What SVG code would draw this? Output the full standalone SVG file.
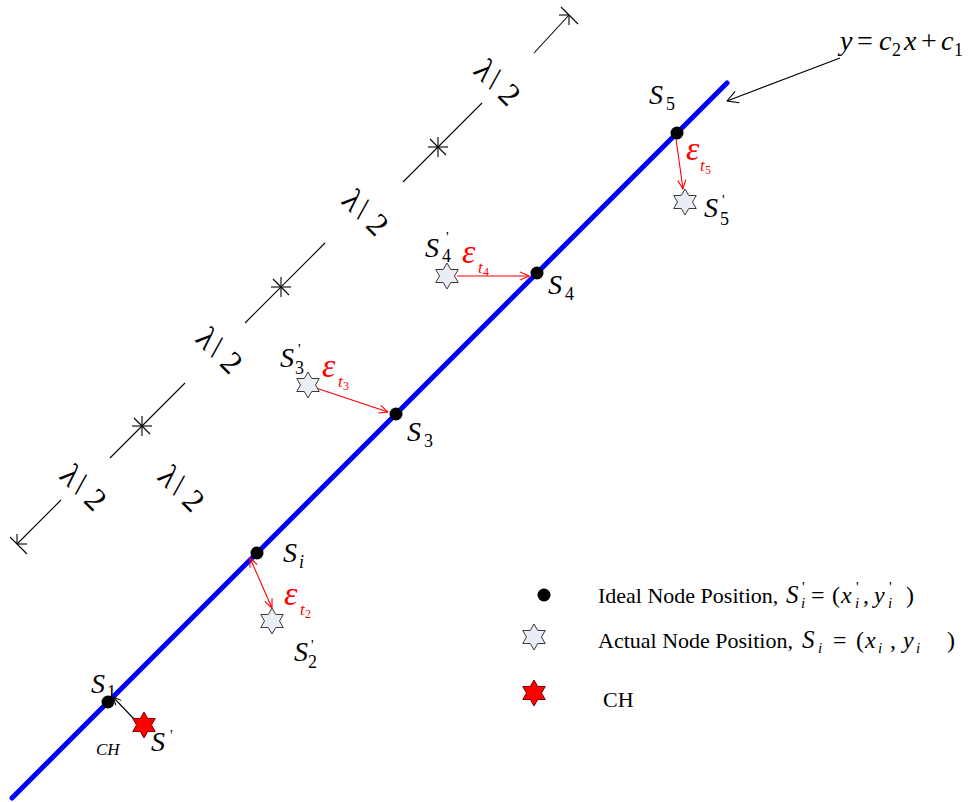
<svg xmlns="http://www.w3.org/2000/svg" xmlns:xlink="http://www.w3.org/1999/xlink" width="968" height="802" viewBox="0 0 968 802">
<style>
  text { font-family: "Liberation Serif", "Times New Roman", serif; fill: #000; }
  .it { font-style: italic; }
  .s { font-size: 28px; font-style: italic; }
  .sub { font-size: 18px; }
  .pr { font-size: 15px; }
  .eps { fill: #FF0000; font-style: italic; font-size: 34px; }
  .ept { fill: #FF0000; font-style: italic; font-size: 17px; }
  .epn { fill: #FF0000; font-size: 12px; }
  .lam { font-size: 32px; }
  .leg { font-size: 22px; }
  .dim { stroke: #000; stroke-width: 1.1; fill: none; }
  .red { stroke: #FF0000; stroke-width: 1.1; fill: none; }
  .blk { stroke: #000; stroke-width: 1.1; fill: none; }
  .dot { fill: #000; }
  .star { fill: #E8EDF6; stroke: #3A3A3A; stroke-width: 1; }
  .rstar { fill: #FF0000; stroke: #7A0000; stroke-width: 1; }
</style>
<defs>
  <path id="hex" d="M0,-13 L3.75,-6.5 L11.26,-6.5 L7.5,0 L11.26,6.5 L3.75,6.5 L0,13 L-3.75,6.5 L-11.26,6.5 L-7.5,0 L-11.26,-6.5 L-3.75,-6.5 Z"/>
  <marker id="ra" viewBox="0 0 10 10" refX="9.5" refY="5" markerWidth="10" markerHeight="10" markerUnits="userSpaceOnUse" orient="auto-start-reverse">
    <path d="M0.5,1 L9.5,5 L0.5,9" fill="none" stroke="#FF0000" stroke-width="1.1"/>
  </marker>
  <marker id="ka" viewBox="0 0 10 10" refX="9.5" refY="5" markerWidth="9" markerHeight="9" markerUnits="userSpaceOnUse" orient="auto">
    <path d="M0.5,1 L9.5,5 L0.5,9" fill="none" stroke="#000" stroke-width="1.1"/>
  </marker>
  <marker id="kb" viewBox="0 0 12 14" refX="11.5" refY="7" markerWidth="12" markerHeight="14" markerUnits="userSpaceOnUse" orient="auto">
    <path d="M0.5,1 L11.5,7 L0.5,13" fill="none" stroke="#000" stroke-width="1.1"/>
  </marker>
</defs>
<rect width="968" height="802" fill="#fff"/>

<!-- dimension line -->
<g id="dimension">
  <line class="dim" x1="17" y1="544" x2="61" y2="500"/>
  <line class="dim" x1="17" y1="544" x2="27" y2="544"/>
  <line class="dim" x1="17" y1="544" x2="17" y2="534"/>
  <line class="dim" x1="10" y1="537" x2="27" y2="554"/>
  <line class="dim" x1="110" y1="458" x2="185" y2="383"/>
  <line class="dim" x1="245" y1="323" x2="325" y2="243"/>
  <line class="dim" x1="403" y1="182" x2="482" y2="103"/>
  <line class="dim" x1="534" y1="53" x2="569" y2="15"/>
  <line class="dim" x1="569" y1="15" x2="559" y2="15"/>
  <line class="dim" x1="569" y1="15" x2="569" y2="25"/>
  <line class="dim" x1="561" y1="7" x2="578" y2="24"/>
  <g id="tick1" transform="translate(142,426)">
    <line class="dim" x1="-10" y1="0" x2="10" y2="0"/><line class="dim" x1="0" y1="-10" x2="0" y2="10"/><line class="dim" x1="-8" y1="-8" x2="8" y2="8"/>
  </g>
  <g id="tick2" transform="translate(281,287)">
    <line class="dim" x1="-10" y1="0" x2="10" y2="0"/><line class="dim" x1="0" y1="-10" x2="0" y2="10"/><line class="dim" x1="-8" y1="-8" x2="8" y2="8"/>
  </g>
  <g id="tick3" transform="translate(438,147)">
    <line class="dim" x1="-10" y1="0" x2="10" y2="0"/><line class="dim" x1="0" y1="-10" x2="0" y2="10"/><line class="dim" x1="-8" y1="-8" x2="8" y2="8"/>
  </g>
  <text class="lam" text-anchor="middle" transform="translate(83,488) rotate(45)" y="10">λ<tspan dx="8" rotate="-35">/</tspan><tspan dx="2">2</tspan></text>
  <text class="lam" text-anchor="middle" transform="translate(181,489) rotate(45)" y="10">λ<tspan dx="8" rotate="-35">/</tspan><tspan dx="2">2</tspan></text>
  <text class="lam" text-anchor="middle" transform="translate(219,351) rotate(45)" y="10">λ<tspan dx="8" rotate="-35">/</tspan><tspan dx="2">2</tspan></text>
  <text class="lam" text-anchor="middle" transform="translate(365,213) rotate(45)" y="10">λ<tspan dx="8" rotate="-35">/</tspan><tspan dx="2">2</tspan></text>
  <text class="lam" text-anchor="middle" transform="translate(497,83) rotate(45)" y="10">λ<tspan dx="8" rotate="-35">/</tspan><tspan dx="2">2</tspan></text>
</g>

<!-- main blue line -->
<g id="line">
  <line x1="12" y1="798" x2="727" y2="83" stroke="#0000FF" stroke-width="5" stroke-linecap="round"/>
  <text class="it" x="840" y="50" font-size="28">y</text>
  <text x="857" y="50" font-size="28">=</text>
  <text class="it" x="879" y="50" font-size="28">c</text>
  <text x="892" y="56" font-size="18">2</text>
  <text class="it" x="904" y="50" font-size="28">x</text>
  <text x="921" y="50" font-size="28">+</text>
  <text class="it" x="941" y="50" font-size="28">c</text>
  <text x="954" y="56" font-size="18">1</text>
</g>

<!-- connectors -->
<g id="connectors">
  <line class="blk" x1="840" y1="58" x2="727" y2="101" marker-end="url(#kb)"/>
  <line class="red" x1="676" y1="139" x2="683" y2="189" marker-end="url(#ra)"/>
  <line class="red" x1="457" y1="276" x2="529" y2="276" marker-end="url(#ra)"/>
  <line class="red" x1="316" y1="388" x2="388" y2="412" marker-end="url(#ra)"/>
  <line class="red" x1="250" y1="558" x2="272" y2="608" marker-start="url(#ra)" marker-end="url(#ra)"/>
  <line class="blk" x1="134" y1="719" x2="113" y2="697" marker-end="url(#ka)"/>
</g>

<!-- nodes -->
<g id="S5">
  <circle class="dot" cx="677" cy="133" r="6.5"/>
  <text class="s" x="649" y="104" font-size="25">S</text>
  <text class="sub" x="666" y="110">5</text>
</g>
<g id="S5p">
  <use href="#hex" x="685" y="202" class="star"/>
  <text class="s" x="704" y="217">S</text>
  <text class="pr" x="722" y="205">'</text>
  <text class="sub" x="720" y="225">5</text>
  <text class="eps" x="686" y="160">ε</text>
  <text class="ept" x="700" y="171">t</text>
  <text class="epn" x="705" y="174">5</text>
</g>
<g id="S4">
  <circle class="dot" cx="537" cy="273" r="6.5"/>
  <text class="s" x="548" y="294">S</text>
  <text class="sub" x="565" y="300">4</text>
</g>
<g id="S4p">
  <use href="#hex" x="447" y="276" class="star"/>
  <text class="s" x="425" y="257">S</text>
  <text class="pr" x="446" y="242">'</text>
  <text class="sub" x="442" y="262">4</text>
  <text class="eps" x="462" y="263">ε</text>
  <text class="ept" x="478" y="273">t</text>
  <text class="epn" x="483" y="276">4</text>
</g>
<g id="S3">
  <circle class="dot" cx="396" cy="414" r="6.5"/>
  <text class="s" x="407" y="441">S</text>
  <text class="sub" x="424" y="447">3</text>
</g>
<g id="S3p">
  <use href="#hex" x="308" y="385" class="star"/>
  <text class="s" x="280" y="367">S</text>
  <text class="pr" x="298" y="354">'</text>
  <text class="sub" x="295" y="374">3</text>
  <text class="eps" x="322" y="377">ε</text>
  <text class="ept" x="338" y="387">t</text>
  <text class="epn" x="343" y="390">3</text>
</g>
<g id="Si">
  <circle class="dot" cx="257" cy="553" r="6.5"/>
  <text class="s" x="283" y="562">S</text>
  <text class="sub it" x="299" y="568">i</text>
</g>
<g id="S2p">
  <use href="#hex" x="272" y="621" class="star"/>
  <text class="s" x="294" y="661" font-size="25">S</text>
  <text class="pr" x="311" y="650">'</text>
  <text class="sub" x="308" y="668">2</text>
  <text class="eps" x="284" y="605">ε</text>
  <text class="ept" x="300" y="615">t</text>
  <text class="epn" x="305" y="618">2</text>
</g>
<g id="S1">
  <circle class="dot" cx="108" cy="702" r="6.5"/>
  <text class="s" x="91" y="693">S</text>
  <text class="sub" x="107" y="698">1</text>
</g>
<g id="CH">
  <use href="#hex" x="144" y="725" class="rstar"/>
  <text class="s" x="151" y="751" font-size="30">S</text>
  <text class="pr" x="170" y="740">'</text>
  <text class="it" x="96" y="755" font-size="17">CH</text>
</g>

<!-- legend -->
<g id="legend">
  <circle class="dot" cx="544" cy="595" r="6.5"/>
  <text class="leg" x="598" y="603">Ideal Node Position,</text>
  <text class="it" x="786" y="603" font-size="25">S</text>
  <text class="pr" x="802" y="592" font-size="13">'</text>
  <text class="it" x="801" y="608" font-size="15">i</text>
  <text x="811" y="603" font-size="24">=</text>
  <text x="832" y="603" font-size="24">(</text>
  <text class="it" x="841" y="603" font-size="24">x</text>
  <text class="pr" x="856" y="592" font-size="13">'</text>
  <text class="it" x="855" y="608" font-size="15">i</text>
  <text x="863" y="603" font-size="24">,</text>
  <text class="it" x="874" y="603" font-size="24">y</text>
  <text class="pr" x="889" y="592" font-size="13">'</text>
  <text class="it" x="888" y="608" font-size="15">i</text>
  <text x="906" y="603" font-size="24">)</text>

  <use href="#hex" x="534" y="637" class="star"/>
  <text class="leg" x="598" y="648">Actual Node Position,</text>
  <text class="it" x="802" y="648" font-size="25">S</text>
  <text class="it" x="818" y="653" font-size="15">i</text>
  <text x="833" y="648" font-size="24">=</text>
  <text x="856" y="648" font-size="24">(</text>
  <text class="it" x="865" y="648" font-size="24">x</text>
  <text class="it" x="878" y="653" font-size="15">i</text>
  <text x="890" y="648" font-size="24">,</text>
  <text class="it" x="903" y="648" font-size="24">y</text>
  <text class="it" x="916" y="653" font-size="15">i</text>
  <text x="947" y="648" font-size="24">)</text>

  <use href="#hex" x="534" y="693" class="rstar"/>
  <text class="leg" x="603" y="707">CH</text>
</g>
</svg>
